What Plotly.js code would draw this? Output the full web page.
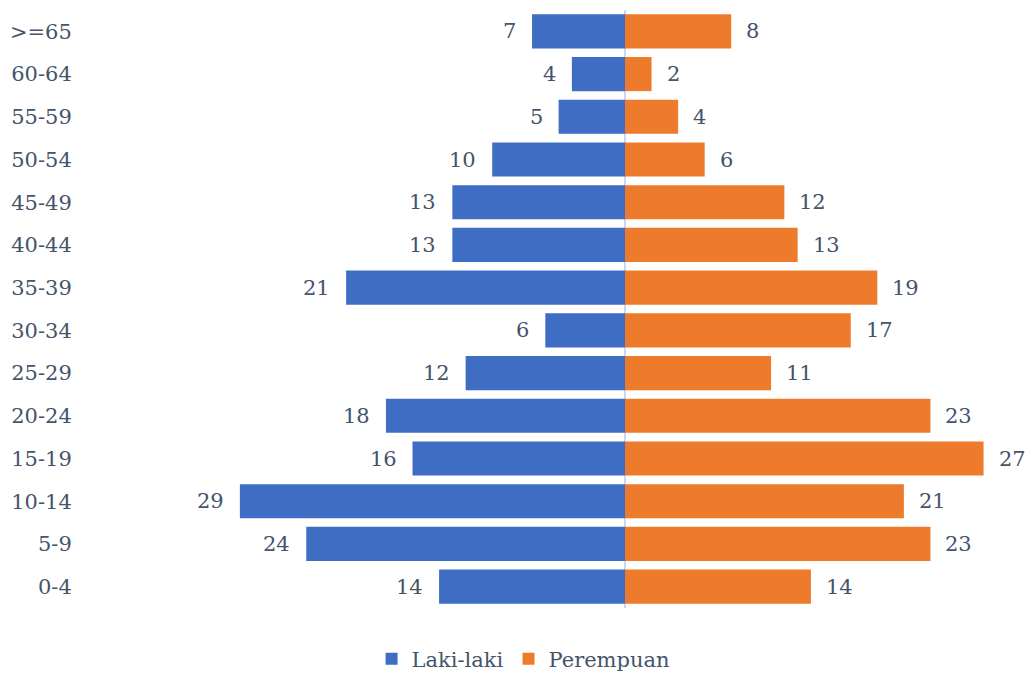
<!DOCTYPE html>
<html>
<head>
<meta charset="utf-8">
<script src="https://cdn.plot.ly/plotly-3.0.1.min.js"></script>
<style>html,body{margin:0;padding:0;background:#fff;}#chart{width:1033px;height:686px;}</style>
</head>
<body>
<div id="chart"></div>
<script>
var categories = ["0-4","5-9","10-14","15-19","20-24","25-29","30-34","35-39","40-44","45-49","50-54","55-59","60-64",">=65"];
var laki = [14,24,29,16,18,12,6,21,13,13,10,5,4,7];
var perempuan = [14,23,21,27,23,11,17,19,13,12,6,4,2,8];
var seriesNames = ["Laki-laki","Perempuan"];

var textColor = "#44546A";
var fontFam = "DejaVu Serif, serif";
var fs = 21;

var traces = [
  {type:"bar", orientation:"h", name:seriesNames[0], y:categories, x:laki.map(function(v){return -v;}),
   marker:{color:"#3F6DC4"}, hoverinfo:"none"},
  {type:"bar", orientation:"h", name:seriesNames[1], y:categories, x:perempuan,
   marker:{color:"#EE7A2C"}, hoverinfo:"none"}
];

var annotations = [];
categories.forEach(function(c,i){
  annotations.push({x:-laki[i], y:c, xref:"x", yref:"y", text:String(laki[i]), showarrow:false,
    xanchor:"right", xshift:-14, font:{family:fontFam,size:fs,color:textColor}});
  annotations.push({x:perempuan[i], y:c, xref:"x", yref:"y", text:String(perempuan[i]), showarrow:false,
    xanchor:"left", xshift:13, font:{family:fontFam,size:fs,color:textColor}});
});

var pxPerUnit = 13.28, left = 80, right = 1000, zeroPx = 625;
var layout = {
  width:1033, height:686,
  margin:{l:left, r:1033-right, t:10, b:78, pad:0, autoexpand:false},
  paper_bgcolor:"#fff", plot_bgcolor:"#fff",
  barmode:"relative", bargap:0.2,
  font:{family:fontFam, size:fs, color:textColor},
  xaxis:{range:[-(zeroPx-left)/pxPerUnit, (right-zeroPx)/pxPerUnit], showgrid:false, showticklabels:false,
    zeroline:true, zerolinecolor:"#D0D7E2", zerolinewidth:2, layer:"above traces", fixedrange:true},
  yaxis:{type:"category", showgrid:false, zeroline:false, ticks:"outside", ticklen:3, tickcolor:"rgba(0,0,0,0)", showline:false,
    tickfont:{family:fontFam,size:fs,color:textColor}, ticklabelstandoff:0, fixedrange:true},
  showlegend:true,
  legend:{orientation:"h", x:0.4816, xanchor:"center", y:-0.0853, yanchor:"middle",
    font:{family:fontFam,size:fs,color:textColor}, traceorder:"normal"},
  annotations:annotations
};
Plotly.newPlot("chart", traces, layout, {displayModeBar:false, staticPlot:true});
</script>
</body>
</html>
